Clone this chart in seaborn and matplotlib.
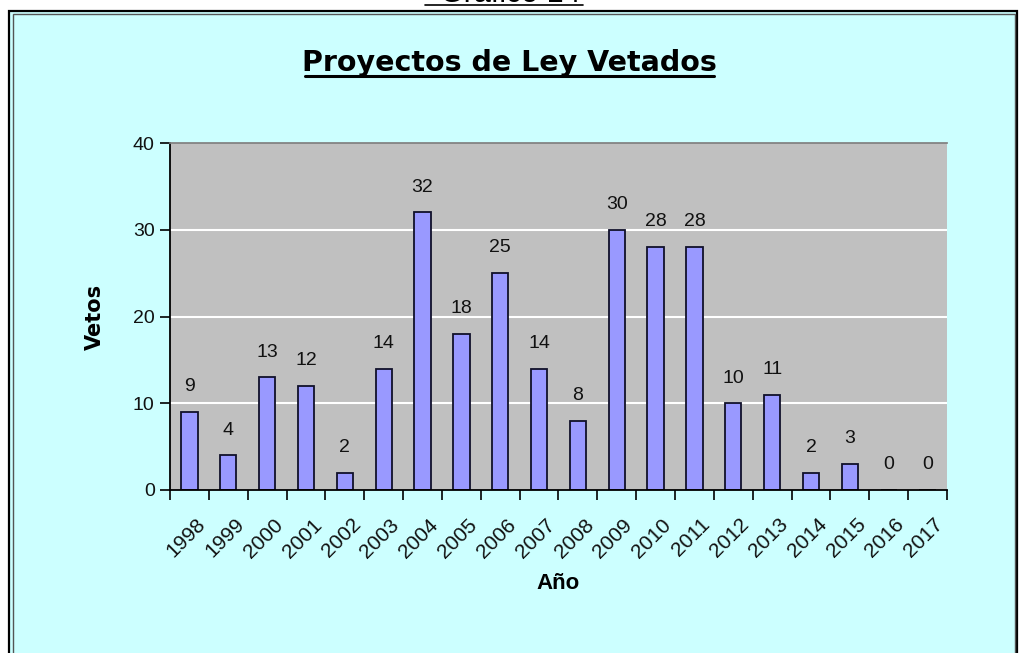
import matplotlib
matplotlib.use("Agg")
import matplotlib.pyplot as plt
import matplotlib.patches as mpatches
import matplotlib.lines as mlines
import matplotlib.transforms as mtransforms
import numpy as np
import pandas as pd
import seaborn as sns

# datos del gráfico
years = ["1998", "1999", "2000", "2001", "2002", "2003", "2004", "2005", "2006", "2007",
         "2008", "2009", "2010", "2011", "2012", "2013", "2014", "2015", "2016", "2017"]
vetos = [9, 4, 13, 12, 2, 14, 32, 18, 25, 14, 8, 30, 28, 28, 10, 11, 2, 3, 0, 0]
y_ticks = [0, 10, 20, 30, 40]

sns.set_theme(style="white")
plt.rcParams['font.family'] = ['Liberation Sans', 'DejaVu Sans']

df = pd.DataFrame({"Año": years, "Vetos": vetos})

fig = plt.figure(figsize=(10.2, 6.53), dpi=100, facecolor="white")
W, H = 1020, 653

# fondo celeste y marco doble
fig.patches.append(mpatches.Rectangle((9 / W, -0.05), (1017 - 9) / W, (H - 11) / H + 0.05,
                                      transform=fig.transFigure, facecolor="#CCFFFF",
                                      edgecolor="black", linewidth=1.6, zorder=-5))
fig.patches.append(mpatches.Rectangle((13 / W, -0.05), (1015 - 13) / W, (H - 14) / H + 0.05,
                                      transform=fig.transFigure, facecolor="none",
                                      edgecolor="#555555", linewidth=1.0, zorder=-4))

# texto cortado arriba (como en el original)
fig.text(0.5, 1 - 2 / H, "Gráfico 14", ha="center", va="baseline", fontsize=22,
         color="black")
fig.add_artist(mlines.Line2D([425 / W, 583 / W], [1 - 5 / H, 1 - 5 / H],
                             transform=fig.transFigure, color="black", linewidth=1.2))

ax = fig.add_axes([170 / W, 1 - 490 / H, (947 - 170) / W, (490 - 143) / H])
ax.set_facecolor("#C0C0C0")

sns.barplot(data=df, x="Año", y="Vetos", color="#9999FF", width=0.42,
            edgecolor="#10102a", linewidth=1.3, saturation=1, ax=ax)

for c in ax.containers:
    ax.bar_label(c, padding=12, fontsize=14, color="#111111")

ax.set_ylim(0, 40)
ax.set_xlim(-0.5, len(years) - 0.5)
ax.set_yticks(y_ticks)
ax.set_yticklabels([str(t) for t in y_ticks], fontsize=14, color="#111111")
for t in [10, 20, 30]:
    ax.axhline(t, color="white", linewidth=1.5, zorder=0.5)

# ticks entre categorías
ax.set_xticks(np.arange(len(years)))
ax.set_xticklabels(years, rotation=45, ha="right", rotation_mode="anchor", fontsize=15, color="#111111")
ax.set_xticks(np.arange(-0.5, len(years)), minor=True)
ax.tick_params(axis="x", which="major", length=0, pad=18)
ax.tick_params(axis="x", which="minor", length=7, width=1.2, color="black", direction="out", bottom=True)
ax.tick_params(axis="y", length=7, width=1.2, color="black", direction="out", left=True, pad=4)
shift = mtransforms.ScaledTranslation(6 / 100, 0, fig.dpi_scale_trans)
for lbl in ax.get_xticklabels():
    lbl.set_transform(lbl.get_transform() + shift)

ax.spines["left"].set_color("black")
ax.spines["bottom"].set_color("black")
ax.spines["left"].set_linewidth(1.3)
ax.spines["bottom"].set_linewidth(1.3)
ax.spines["top"].set_color("#808080")
ax.spines["right"].set_visible(False)

ax.set_xlabel("Año", fontsize=16, fontweight="bold", color="black", labelpad=8)
ax.set_ylabel("Vetos", fontsize=15, fontweight="bold", color="black",
              family=['DejaVu Sans'], labelpad=20)

# título subrayado
fig.text(509 / W, 1 - 71 / H, "Proyectos de Ley Vetados", ha="center", va="baseline",
         fontsize=20.5, fontweight="bold", color="black", family=['DejaVu Sans'])
fig.add_artist(mlines.Line2D([305 / W, 714 / W], [1 - 76 / H, 1 - 76 / H],
                             transform=fig.transFigure, color="black", linewidth=2.2))

fig.savefig("out.png", dpi=100, facecolor="white")
